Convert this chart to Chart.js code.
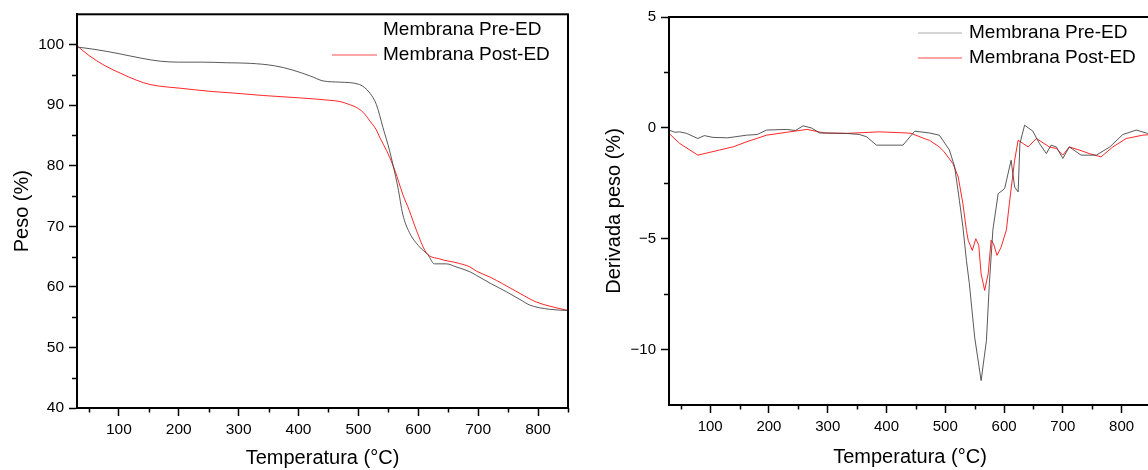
<!DOCTYPE html>
<html>
<head>
<meta charset="utf-8">
<script src="https://cdn.jsdelivr.net/npm/chart.js@4.4.1/dist/chart.umd.min.js"></script>
<style>
  html, body { margin: 0; padding: 0; background: #fff; overflow: hidden; width: 1148px; height: 470px; }
  canvas { position: absolute; top: 0; }
  #tga { left: 0; }
  #dtg { left: 580px; }
</style>
</head>
<body>
<canvas id="tga" width="580" height="470"></canvas>
<canvas id="dtg" width="580" height="470"></canvas>
<script>
// ---------- DATA ----------
const seriesLabels = ['Membrana Pre-ED', 'Membrana Post-ED'];
const xTitle = 'Temperatura (°C)';
const tgaTitle = 'Peso (%)';
const dtgTitle = 'Derivada peso (%)';

// TGA – Membrana Pre-ED
const tgaPreT = [30, 60, 100, 140, 170, 200, 240, 280, 320, 360, 390, 420, 441, 469, 502, 519, 530, 541, 552, 558, 566, 574, 585, 602, 616, 627, 647, 663, 686, 697, 720, 747, 770, 786, 819, 850];
const tgaPreW = [99.6, 99.2, 98.5, 97.7, 97.25, 97.1, 97.1, 97.0, 96.9, 96.5, 95.8, 94.8, 94.0, 93.8, 93.4, 92.0, 90.1, 86.3, 82.5, 80.0, 76.4, 72.0, 69.0, 66.6, 65.3, 63.8, 63.8, 63.3, 62.5, 61.9, 60.6, 59.2, 57.9, 57.0, 56.3, 56.1];
// TGA – Membrana Post-ED
const tgaPostT = [30, 50, 75, 102, 130, 152, 180, 202, 250, 291, 340, 402, 452, 469, 485, 497, 508, 519, 530, 536, 547, 552, 561, 574, 585, 597, 613, 636, 663, 686, 697, 720, 741, 770, 797, 820, 850];
const tgaPostW = [99.8, 98.2, 96.6, 95.3, 94.1, 93.4, 93.0, 92.8, 92.3, 92.0, 91.6, 91.2, 90.8, 90.6, 90.1, 89.6, 88.8, 87.4, 85.9, 84.6, 82.5, 81.4, 79.2, 75.3, 72.6, 69.3, 65.7, 64.6, 64.0, 63.3, 62.6, 61.6, 60.5, 58.9, 57.5, 56.8, 56.1];

// DTG – Membrana Pre-ED
const dtgPreT = [30, 40, 48, 60, 79, 90, 105, 130, 162, 180, 196, 230, 245, 258, 272, 286, 332, 354, 366, 383, 428, 448, 473, 490, 507, 516, 524, 530, 536, 541, 550, 561, 570, 575, 581, 590, 601, 612, 618, 624, 627, 635, 649, 660, 672, 680, 689, 700, 711, 731, 757, 780, 802, 825, 844, 850];
const dtgPreD = [-0.1, -0.2, -0.18, -0.25, -0.48, -0.35, -0.43, -0.45, -0.33, -0.3, -0.1, -0.07, -0.12, 0.09, 0.0, -0.23, -0.25, -0.3, -0.4, -0.78, -0.78, -0.15, -0.23, -0.33, -1.0, -1.76, -3.27, -4.47, -5.98, -7.03, -9.44, -11.4, -9.6, -7.03, -4.6, -2.97, -2.74, -1.46, -2.67, -2.89, -0.7, 0.12, -0.15, -0.7, -1.16, -0.78, -0.86, -1.38, -0.86, -1.23, -1.23, -0.86, -0.3, -0.1, -0.25, -0.3];
// DTG – Membrana Post-ED
const dtgPostT = [30, 48, 79, 100, 116, 140, 162, 196, 230, 265, 294, 332, 388, 434, 442, 468, 473, 490, 498, 513, 522, 530, 536, 539, 546, 552, 557, 561, 567, 573, 578, 582, 588, 595, 604, 609, 618, 624, 632, 641, 655, 677, 689, 700, 711, 728, 745, 765, 785, 808, 836, 850];
const dtgPostD = [-0.25, -0.7, -1.23, -1.1, -1.0, -0.85, -0.63, -0.33, -0.2, -0.07, -0.23, -0.25, -0.18, -0.23, -0.25, -0.52, -0.56, -0.86, -1.08, -1.61, -2.21, -3.42, -4.62, -5.07, -5.53, -5.0, -5.3, -6.58, -7.33, -6.58, -5.07, -5.22, -5.75, -5.38, -4.6, -3.42, -1.46, -0.56, -0.7, -0.86, -0.48, -0.86, -0.93, -1.23, -0.86, -1.0, -1.16, -1.31, -0.86, -0.48, -0.33, -0.3];

// Tick values
const xMajorTicks = [100, 200, 300, 400, 500, 600, 700, 800];
const xMinorTicks = [50, 150, 250, 350, 450, 550, 650, 750, 850];
const tgaMajorTicks = [40, 50, 60, 70, 80, 90, 100];
const tgaMinorTicks = [45, 55, 65, 75, 85, 95];
const dtgMajorTicks = [-10, -5, 0, 5];
const dtgMinorTicks = [-7.5, -2.5, 2.5];

// ---------- RENDERING ----------
const FONT = '"Liberation Sans", Arial, Helvetica, sans-serif';
const GRAY = 'rgba(60,60,60,0.85)';
const RED = 'rgba(255,0,0,0.85)';

function pts(xs, ys) { return xs.map((x, i) => ({ x: x, y: ys[i] })); }
function fmt(v) { return v < 0 ? '\u2212' + Math.abs(v) : String(v); }

const framePlugin = {
  id: 'frameAndMinor',
  afterDraw(chart, args, opts) {
    const ctx = chart.ctx, a = chart.chartArea;
    const xs = chart.scales.x, ys = chart.scales.y;
    ctx.save();
    ctx.strokeStyle = '#000';
    ctx.lineWidth = 2;
    ctx.strokeRect(a.left, a.top, a.right - a.left, a.bottom - a.top);
    ctx.lineWidth = 1.5;
    ctx.beginPath();
    (opts.xMinor || []).forEach(v => {
      const px = Math.round(xs.getPixelForValue(v)) + 0.5;
      ctx.moveTo(px, a.bottom); ctx.lineTo(px, a.bottom + 4.5);
    });
    (opts.yMinor || []).forEach(v => {
      const py = Math.round(ys.getPixelForValue(v)) + 0.5;
      ctx.moveTo(a.left, py); ctx.lineTo(a.left - 5, py);
    });
    ctx.stroke();
    ctx.restore();
  }
};

const legendPlugin = {
  id: 'insideLegend',
  afterDraw(chart, args, o) {
    const ctx = chart.ctx;
    ctx.save();
    ctx.font = o.fontSize + 'px ' + FONT;
    ctx.textBaseline = 'middle';
    ctx.textAlign = 'left';
    chart.data.datasets.forEach((ds, i) => {
      const y = o.y0 + i * o.dy;
      if (o.lineColors[i]) {
        ctx.strokeStyle = o.lineColors[i];
        ctx.lineWidth = 1.2;
        ctx.beginPath();
        ctx.moveTo(o.lineX0, y); ctx.lineTo(o.lineX1, y);
        ctx.stroke();
      }
      ctx.fillStyle = '#000';
      ctx.fillText(ds.label, o.textX, y);
    });
    ctx.restore();
  }
};

function makeChart(id, cfg) {
  return new Chart(document.getElementById(id), {
    type: 'line',
    data: {
      datasets: [
        { label: seriesLabels[0], data: cfg.pre, borderColor: GRAY, borderWidth: 1, pointRadius: 0, tension: cfg.tension, cubicInterpolationMode: cfg.cim },
        { label: seriesLabels[1], data: cfg.post, borderColor: RED, borderWidth: 1, pointRadius: 0, tension: cfg.tension, cubicInterpolationMode: cfg.cim }
      ]
    },
    options: {
      responsive: false,
      animation: false,
      devicePixelRatio: 1,
      layout: { padding: cfg.padding },
      plugins: {
        legend: { display: false },
        tooltip: { enabled: false },
        frameAndMinor: { xMinor: xMinorTicks, yMinor: cfg.yMinor },
        insideLegend: cfg.legend
      },
      scales: {
        x: {
          type: 'linear', min: 30, max: 850,
          afterBuildTicks: s => { s.ticks = xMajorTicks.map(v => ({ value: v })); },
          afterFit: s => { s.height = cfg.xHeight; },
          grid: { drawOnChartArea: false, drawTicks: true, tickLength: 8, tickWidth: 1.5, tickColor: '#000' },
          border: { display: true, color: '#000', width: 2 },
          ticks: { color: '#000', font: { family: FONT, size: cfg.tickSize }, padding: cfg.xTickPad, maxRotation: 0, autoSkip: false, callback: v => fmt(v) },
          title: { display: true, text: xTitle, color: '#000', font: { family: FONT, size: 20 }, padding: { top: 0, bottom: cfg.xTitlePad } }
        },
        y: {
          type: 'linear', min: cfg.yMin, max: cfg.yMax,
          afterBuildTicks: s => { s.ticks = cfg.yMajor.map(v => ({ value: v })); },
          afterFit: s => { s.width = cfg.yWidth; },
          grid: { drawOnChartArea: false, drawTicks: true, tickLength: 8, tickWidth: 1.5, tickColor: '#000' },
          border: { display: true, color: '#000', width: 2 },
          ticks: { color: '#000', font: { family: FONT, size: cfg.tickSize }, padding: 5, autoSkip: false, callback: v => fmt(v) },
          title: { display: true, text: cfg.yTitle, color: '#000', font: { family: FONT, size: 20 }, padding: { top: cfg.yTitlePad, bottom: 0 } }
        }
      }
    },
    plugins: [framePlugin, legendPlugin]
  });
}

makeChart('tga', {
  pre: pts(tgaPreT, tgaPreW), post: pts(tgaPostT, tgaPostW),
  tension: 0.4, cim: 'monotone',
  padding: { top: 13, right: 12, left: 0, bottom: 0 },
  yMin: 40, yMax: 105, yMajor: tgaMajorTicks, yMinor: tgaMinorTicks,
  xHeight: 62, yWidth: 77, tickSize: 15.5, xTickPad: 4, xTitlePad: 0, yTitlePad: 10,
  yTitle: tgaTitle,
  legend: { fontSize: 19, textX: 383, y0: 30, dy: 25, lineX0: 332, lineX1: 377, lineColors: [null, 'rgba(255,0,0,0.7)'] }
});

makeChart('dtg', {
  pre: pts(dtgPreT, dtgPreD), post: pts(dtgPostT, dtgPostD),
  tension: 0, cim: 'default',
  padding: { top: 17, right: 9, left: 0, bottom: 0 },
  yMin: -12.5, yMax: 5, yMajor: dtgMajorTicks, yMinor: dtgMinorTicks,
  xHeight: 65, yWidth: 89, tickSize: 15, xTickPad: 5, xTitlePad: 1, yTitlePad: 22,
  yTitle: dtgTitle,
  legend: { fontSize: 19, textX: 389, y0: 33, dy: 25, lineX0: 338, lineX1: 382, lineColors: ['rgba(150,150,150,0.8)', 'rgba(255,0,0,0.7)'] }
});
</script>
</body>
</html>
